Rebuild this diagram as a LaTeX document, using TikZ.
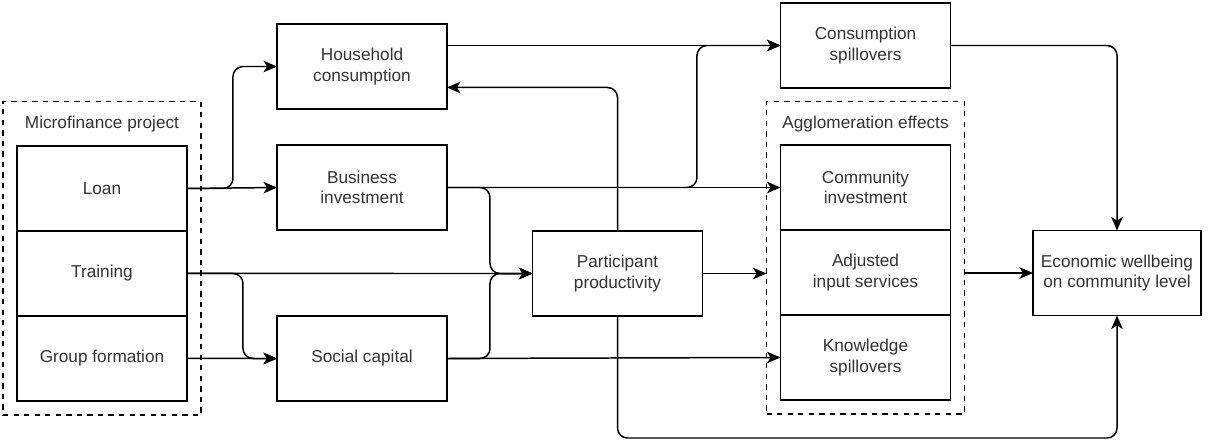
\documentclass[tikz,border=0pt]{standalone}
\usepackage{fontspec}
\setmainfont{Liberation Sans}
\usepackage{tikz}
\usetikzlibrary{
  positioning, arrows.meta, calc, fit
}
\definecolor{flowInk}{HTML}{000000}
\definecolor{labelGray}{HTML}{333333}
\tikzset{
  box/.style={rectangle, draw=flowInk, line width=0.85pt, fill=white,
    align=center, minimum width=3.4cm, minimum height=1.7cm,
    inner sep=2pt, outer sep=0pt, text=labelGray,
    font=\fontsize{9.8}{11.6}\selectfont},
  groupframe/.style={rectangle, draw=flowInk, dashed, line width=0.75pt,
    inner sep=0.28cm, outer sep=0pt},
  framelabel/.style={text=labelGray, inner sep=0pt,
    font=\fontsize{9.8}{11.6}\selectfont},
  flow/.style={-{Stealth[length=2.7mm, width=2.3mm, inset=0.7mm]},
    line width=0.85pt, flowInk, rounded corners=0.2cm},
}

\begin{document}
\begin{tikzpicture}[x=0.02cm, y=-0.02cm]
    \useasboundingbox (0,0) rectangle (1212,446);
    % ---------------- Microfinance project ----------------
    \node[framelabel] (mflabel) at (102,124) {Microfinance project};
    \node[box] (loan) at (102,188.5) {Loan};
    \node[box, below=0pt of loan] (training) {Training};
    \node[box, below=0pt of training] (groupform) {Group formation};
    \node[groupframe, fit=(mflabel)(loan)(groupform)] (mfproject) {};
    % ---------------- direct outcomes ----------------
    \node[box] (household) at (362,66.5) {Household\\consumption};
    \node[box] (business) at (362,187.5) {Business\\investment};
    \node[box] (social) at (362,358.5) {Social capital};
    \node[box] (particip) at (617.5,273.5) {Participant\\productivity};
    % ---------------- Agglomeration effects ----------------
    \node[box] (conspill) at (865.5,45.5) {Consumption\\spillovers};
    \node[framelabel] (agglabel) at (865.5,124) {Agglomeration effects};
    \node[box] (community) at (865.5,187.5) {Community\\investment};
    \node[box, below=0pt of community] (adjusted) {Adjusted\\input services};
    \node[box, below=0pt of adjusted] (knowledge) {Knowledge\\spillovers};
    \node[groupframe, fit=(agglabel)(community)(knowledge)] (agglo) {};
    \node[box, minimum width=3.36cm] (wellbeing) at (1117,273)
      {Economic wellbeing\\on community level};
    % ---------------- connectors ----------------
    \draw[flow] (loan.east) -- (business.west);
    \draw[flow] (loan.east) -- ++(46,0) |- (household.west);
    \draw[flow] (training.east) -- (particip.west);
    \draw[flow] (training.east) -- ++(56,0) |- (social.west);
    \draw[flow] (groupform.east) -- (social.west);
    \draw[flow] (business.east) -- ++(43,0) |- (particip.west);
    \draw[flow] (social.east) -- ++(43,0) |- (particip.west);
    \draw[flow] (business.east) -- (community.west);
    \draw[flow] (business.east) -- ++(250,0) |- (conspill.west);
    \draw[flow] (social.east) -- (knowledge.west);
    \draw[flow] (household.east |- conspill.west) -- (conspill.west);
    \draw[flow] (particip.north) |- ([yshift=-0.42cm]household.east);
    \draw[flow] (particip.east) -- (particip.east -| agglo.west);
    \draw[flow] (particip.south) -- ++(0,122) -| (wellbeing.south);
    \draw[flow] (agglo.east |- wellbeing.west) -- (wellbeing.west);
    \draw[flow] (conspill.east) -| (wellbeing.north);
\end{tikzpicture}
\end{document}
